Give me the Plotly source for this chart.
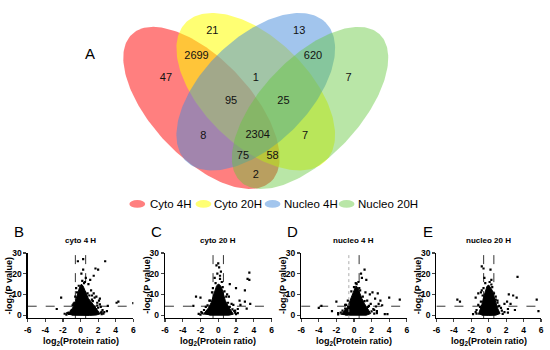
import numpy as np
import plotly.graph_objects as go

W, H = 550, 350

# ---------------- Venn data ----------------
set_names = ["Cyto 4H", "Cyto 20H", "Nucleo 4H", "Nucleo 20H"]
region_counts = [47, 21, 13, 7, 2699, 620, 1, 95, 25, 8, 2304, 7, 75, 58, 2]

# label positions (pixel space of the venn panel)
region_x = [164, 211, 299, 349, 195, 313, 255, 230, 283, 202, 257, 305, 242, 272, 255]
region_y = [75, 27, 27, 75, 52, 52, 75, 98, 98, 134, 133, 134, 154, 154, 174]

# ellipse geometry (pixel space)
ell_cx = [200, 255, 255, 310]
ell_cy = [105, 88.5, 88.5, 105]
ell_a = [103, 100, 100, 103]
ell_b = [50, 54, 54, 50]
ell_ang = [47, 45, -45, -47]
ell_fill = ["rgba(255,0,0,0.5)", "rgba(255,255,0,0.55)",
            "rgba(70,140,220,0.5)", "rgba(100,200,60,0.45)"]
leg_cx = [135, 202, 272, 347]
leg_tx = [146, 211, 282, 357]

# ---------------- Volcano data ----------------
panel_letters = ["B", "C", "D", "E"]
panel_titles = ["cyto 4 H", "cyto 20 H", "nucleo 4 H", "nucleo 20 H"]
x_ticks = [-6, -4, -2, 0, 2, 4, 6]
x_tick_labels = ["-6", "-4", "-2", "0", "2", "4", "6"]
y_ticks = [0, 10, 20, 30]
y_tick_labels = ["0", "10", "20", "30"]
P_CUTOFF = 0.05
FC_CUTOFF = 1.5

B_blob_x = [-1.4, -1.2, -0.9, -0.6, -0.45, -0.3, -0.1, 0.1, 0.3, 0.5, 0.7, 0.9, 1.2, 1.5, 1.8, 2.0, 2.2, 1.8, 1.0, 0.0, -1.0]
B_blob_y = [0.2, 1.5, 3.5, 6.5, 9, 11.5, 13.5, 15, 14, 12, 10, 8, 6.5, 5, 3.5, 2, 0.6, 0.1, -0.1, -0.1, 0]
B_pts_x = [2.8, 0.3, -0.3, 1.7, 2.0, 0.3, 0.1, 1.5, 1.1, 0.6, -2.2, -2.7, 4.3, 4.1, 6.0, 2.2, 1.8, 2.1, 1.6, 2.5, 3.0, 2.7, -1.5, -1.8, 1.2, 0.9, 0.5, -0.5, -0.6, 2.3, 3.1, 1.9,
           -1.0, -0.9, -0.7, 1.3, 1.4, 2.3, 2.4, -1.3, 0.8, 1.0, -0.4, 1.6, 2.0, 1.75, -1.1,
           -1.6, -1.35, 2.4, 2.6, 1.9, 2.2, -0.8, 0.2, 0.4, -0.2, 1.3, 1.5]
B_pts_y = [26, 27, 26, 22.5, 22, 22, 20, 19, 17, 18, 8.5, 3, 6.5, 6, 5.8, 8, 9, 7, 8.5, 2.5, 2, 1.5, 1, 0.7, 12, 15, 16, 13, 9, 4, 4.5, 6,
           2.5, 4.8, 6, 7.5, 6.8, 1.2, 0.5, 0.6, 10.5, 9.5, 11, 4.2, 3.6, 2.8, 1.8,
           0.3, 1.2, 1.6, 0.8, 4.6, 5.2, 5.5, 16.5, 15.5, 14.2, 9.5, 10.5]

C_blob_x = [-1.7, -1.4, -1.1, -0.8, -0.6, -0.4, -0.2, 0.0, 0.2, 0.4, 0.6, 0.8, 1.1, 1.4, 1.7, 1.2, 0.0, -1.0]
C_blob_y = [0.3, 1.8, 3.5, 6, 9, 12, 14, 15, 14.5, 13, 10, 7, 4.5, 2.5, 0.5, 0, -0.1, 0]
C_pts_x = [0.0, -0.2, 0.1, 0.3, -0.1, 0.2, -0.4, 3.5, 3.3, 3.5, 1.3, 2.0, 3.0, -2.5, -2.0, -2.8, 2.4, 3.0, 2.5, 2.2, 3.2, 1.8, 1.0, 1.2, -1.0, 3.6, 1.7, -1.8,
           -1.2, -0.9, 1.1, 1.3, 1.6, 1.9, -1.6, -0.7, 0.7, 0.5, -0.3, 2.0, -2.0,
           -2.2, -1.9, 1.9, 2.2, 1.5, -1.4, 0.9, -0.6, 0.4, 0.2]
C_pts_y = [25, 24, 23, 21, 20, 19, 18, 20.5, 17.5, 17, 15, 13, 12, 9, 8.5, 4.5, 7, 6.5, 5, 3, 3.2, 2, 10, 9, 7, 5.5, 5, 1,
           4.8, 7, 6, 4, 2.8, 1.2, 2.5, 11, 11.5, 13.5, 15.5, 0.5, 0.3,
           0.6, 1.5, 2.2, 1.0, 5.5, 4.0, 9, 13, 16, 17.5]

D_blob_x = [-1.5, -1.2, -0.8, -0.5, -0.2, 0.0, 0.2, 0.4, 0.6, 0.9, 1.2, 1.5, 1.9, 1.4, 0.2, -1.0]
D_blob_y = [0.2, 1.5, 3.5, 6.5, 10, 12.5, 14, 13.5, 11, 8, 5.5, 3.5, 0.8, 0, -0.1, 0]
D_pts_x = [1.2, 0.8, 0.9, 1.4, 0.5, 0.3, 2.7, 2.1, 1.8, 2.4, 3.0, 4.0, 5.2, -2.0, -4.0, -3.7, -2.5, -1.8, 3.5, 3.8, 2.2, 2.6, 1.5, -1.0, 1.7, 3.2, 2.8,
           -1.3, -1.0, 1.2, 1.6, 2.0, 2.3, 0.7, -0.3, 1.0, -0.7, 2.5, 0.0,
           -1.8, -1.5, 2.3, 2.6, 1.9, -0.9, 0.6, 0.2, 1.3]
D_pts_y = [22, 20, 18, 17, 16, 15, 10.5, 11, 10, 8, 7, 8.5, 7.5, 6.5, 3.5, 4.5, 2, 1, 0.5, 0.5, 3, 2, 7, 5, 4.5, 4.8, 5.5,
           2.2, 3.2, 6.8, 4.0, 1.8, 0.8, 12, 11.5, 9, 7, 4.2, 13.5,
           0.4, 1.2, 2.5, 1.0, 5.5, 5, 13, 15.5, 11]

E_blob_x = [-1.2, -1.0, -0.8, -0.6, -0.4, -0.2, 0.0, 0.2, 0.4, 0.6, 0.8, 1.0, 1.3, 0.8, 0.0, -0.8]
E_blob_y = [0.3, 2.5, 5, 8.5, 12, 14, 14.5, 13.5, 12, 9, 6, 3.5, 0.8, 0, -0.1, 0]
E_pts_x = [-0.8, -0.6, 0.2, 0.3, 0.1, -0.5, 3.3, 2.3, 2.8, 3.2, -1.2, -1.5, -3.6, -3.3, 5.5, 5.7, 1.8, 2.5, 2.2, 1.2, -1.8, -1.5, 1.0, 0.8, -0.8, 3.0, 2.1,
           -1.0, -0.9, -0.7, 0.8, 1.1, 1.5, 1.6, -1.4, 0.6, -0.6, 0.3, 2.2,
           -1.4, -1.2, 1.4, 1.8, 1.0, -0.4, 0.4, -0.9]
E_pts_y = [23.5, 22.5, 22, 17, 16, 18, 18.5, 10, 9.5, 8.5, 10.5, 8.5, 7.5, 6.5, 7.5, 2, 5.5, 5.5, 3, 4.5, 0.5, 1.5, 7, 9, 12, 2.5, 6.5,
           4, 6.5, 9.5, 7.5, 4.2, 2.2, 0.6, 0.8, 10.5, 13, 14.8, 1.2,
           2.5, 5, 3.5, 1.5, 6, 15.5, 13.5, 11]

blobs = [(B_blob_x, B_blob_y), (C_blob_x, C_blob_y), (D_blob_x, D_blob_y), (E_blob_x, E_blob_y)]
points = [(B_pts_x, B_pts_y), (C_pts_x, C_pts_y), (D_pts_x, D_pts_y), (E_pts_x, E_pts_y)]

# panel layout in pixels
pan_x0 = [24, 163, 301, 438]
pan_x1 = [131, 271, 408, 544]
pan_top, pan_bot = 253, 319.5
Y_RANGE = [-1.4, 30]

FONT = "Liberation Sans, Arial, sans-serif"

fig = go.Figure()

# ---- Venn ellipses ----
t = np.linspace(0, 2 * np.pi, 200)
for i in range(4):
    th = np.deg2rad(ell_ang[i])
    ex = ell_cx[i] + ell_a[i] * np.cos(t) * np.cos(th) - ell_b[i] * np.sin(t) * np.sin(th)
    ey = ell_cy[i] + ell_a[i] * np.cos(t) * np.sin(th) + ell_b[i] * np.sin(t) * np.cos(th)
    fig.add_trace(go.Scatter(x=ex, y=ey, fill="toself", fillcolor=ell_fill[i],
                             line=dict(width=0), mode="lines", hoverinfo="skip",
                             showlegend=False, xaxis="x", yaxis="y"))

fig.add_trace(go.Scatter(x=region_x, y=region_y, mode="text",
                         text=[str(v) for v in region_counts],
                         textfont=dict(family=FONT, size=11, color="#111"),
                         hoverinfo="skip", showlegend=False, xaxis="x", yaxis="y"))

shapes = []
annotations = []


def ann(x, y, text, size, bold=False, angle=0, xanchor="center"):
    f = dict(family=FONT, size=size, color="black")
    if bold:
        f["weight"] = "bold"
    annotations.append(dict(x=x / W, y=1 - y / H, xref="paper", yref="paper",
                            text=text, showarrow=False, xanchor=xanchor,
                            yanchor="middle", textangle=angle, font=f))


for i in range(4):
    shapes.append(dict(type="circle", xref="x", yref="y",
                       x0=leg_cx[i] - 8, x1=leg_cx[i] + 8, y0=199, y1=207,
                       fillcolor=ell_fill[i], line=dict(width=0)))
    ann(leg_tx[i], 203, set_names[i], 11.5, xanchor="left")
ann(87, 50, "A", 15)

layout_axes = dict(
    xaxis=dict(domain=[0, 1], range=[0, W], visible=False, fixedrange=True),
    yaxis=dict(domain=[0, 1], range=[H, 0], visible=False, fixedrange=True),
)

lnx = np.log2(FC_CUTOFF)
lny = -np.log2(P_CUTOFF)

for k in range(4):
    n = k + 2
    xa, ya = f"x{n}", f"y{n}"
    bx, by = blobs[k]
    px, py = points[k]
    fig.add_trace(go.Scatter(x=bx, y=by, fill="toself", fillcolor="black",
                             line=dict(color="black", width=1), mode="lines",
                             showlegend=False, hoverinfo="skip", xaxis=xa, yaxis=ya))
    fig.add_trace(go.Scatter(x=px, y=py, mode="markers",
                             marker=dict(symbol="square", size=2.2, color="black"),
                             showlegend=False, xaxis=xa, yaxis=ya))
    dom_x = [pan_x0[k] / W, pan_x1[k] / W]
    dom_y = [1 - pan_bot / H, 1 - pan_top / H]
    tf = dict(family=FONT, size=8.5, color="black", weight="bold")
    common = dict(ticks="outside", ticklen=3, tickwidth=1.2,
                  showline=True, linecolor="black", linewidth=1.2,
                  showgrid=False, zeroline=False, tickfont=tf, fixedrange=True)
    layout_axes[f"xaxis{n}"] = dict(domain=dom_x, range=[-6, 6], anchor=ya,
                                    tickvals=x_ticks, ticktext=x_tick_labels, **common)
    layout_axes[f"yaxis{n}"] = dict(domain=dom_y, range=Y_RANGE, anchor=xa,
                                    tickvals=y_ticks, ticktext=y_tick_labels, **common)
    # threshold lines
    shapes.append(dict(type="line", xref=xa, yref=ya, x0=-6, x1=6, y0=lny, y1=lny,
                       line=dict(color="black", width=0.8, dash="dash")))
    for j, xv in enumerate([-lnx, lnx]):
        col = "#999" if (k == 2 and j == 0) else "black"
        dsh = "dot" if (k == 2 and j == 0) else "dash"
        shapes.append(dict(type="line", xref=xa, yref=ya, x0=xv, x1=xv, y0=Y_RANGE[0], y1=30,
                           line=dict(color=col, width=0.8, dash=dsh)))
    cx = (pan_x0[k] + pan_x1[k]) / 2
    ann(cx, 240, panel_titles[k], 8, bold=True)
    ann(pan_x0[k] - 9, 231, panel_letters[k], 15)
    ann(cx, 343, "log<sub>2</sub>(Protein ratio)", 9, bold=True)
    ann(pan_x0[k] - 18, (pan_top + pan_bot) / 2, "-log<sub>2</sub>(P value)", 9,
        bold=True, angle=-90)

fig.update_layout(width=W, height=H, autosize=False,
                  margin=dict(l=0, r=0, t=0, b=0),
                  paper_bgcolor="white", plot_bgcolor="rgba(0,0,0,0)",
                  shapes=shapes, annotations=annotations, showlegend=False,
                  hovermode=False, **layout_axes)

fig.write_html("out.html", config={"displayModeBar": False, "staticPlot": True},
               post_script="document.body.style.margin='0';document.body.style.overflow='hidden';")
